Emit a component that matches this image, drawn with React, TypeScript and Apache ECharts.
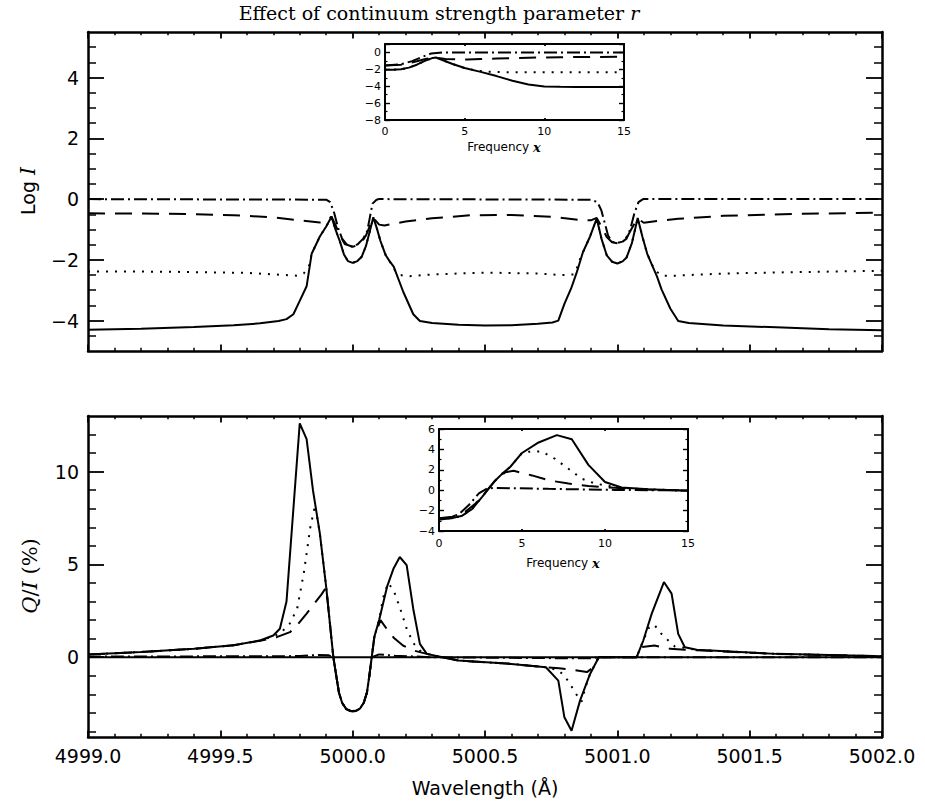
import React, { useEffect, useRef } from "react";
import * as echarts from "echarts";

// ---------- axis ranges & ticks ----------
const WL_MIN = 4999.0;
const WL_MAX = 5002.0;
const WL_STEP = 0.5;
const LOGI_MIN = -5;
const LOGI_MAX = 5.5;
const LOGI_MAJOR = [-4, -2, 0, 2, 4];
const LOGI_MINOR = [-4.5, -3.5, -3, -2.5, -1.5, -1, -0.5, 0.5, 1, 1.5, 2.5, 3, 3.5, 4.5, 5];
const QI_MIN = -4.3;
const QI_MAX = 13;
const QI_MAJOR = [0, 5, 10];
const QI_MINOR = [-4, -3, -2, -1, 1, 2, 3, 4, 6, 7, 8, 9, 11, 12];
const FREQ_MIN = 0;
const FREQ_MAX = 15;
const FREQ_STEP = 5;
const INSET_TOP_MIN = -8;
const INSET_TOP_MAX = 1;
const INSET_BOT_MIN = -4;
const INSET_BOT_MAX = 6;
const INSET_Y_STEP = 2;

// ---------- top panel: Log I vs wavelength ----------
const topSolid = [
  [4999.0, -4.3], [4999.2, -4.27], [4999.4, -4.21], [4999.55, -4.15], [4999.65, -4.09], [4999.72, -4.01],
  [4999.75, -3.95], [4999.776, -3.79], [4999.8, -3.35], [4999.826, -2.87], [4999.845, -1.8], [4999.876, -1.23],
  [4999.9, -0.9], [4999.92, -0.58], [4999.935, -1.0], [4999.952, -1.4], [4999.967, -1.82], [4999.982, -2.04],
  [5000.0, -2.1], [5000.018, -2.04], [5000.034, -1.9], [5000.05, -1.55], [5000.065, -1.05], [5000.078, -0.6],
  [5000.092, -0.98], [5000.105, -1.38], [5000.125, -1.85], [5000.14, -2.05], [5000.155, -2.22], [5000.191, -3.05],
  [5000.229, -3.79], [5000.254, -4.01], [5000.3, -4.08], [5000.4, -4.14], [5000.5, -4.16], [5000.6, -4.15],
  [5000.7, -4.1], [5000.755, -4.06], [5000.777, -4.0], [5000.8, -3.45], [5000.825, -2.95], [5000.846, -2.43],
  [5000.87, -1.75], [5000.897, -1.23], [5000.922, -0.64], [5000.94, -1.3], [5000.96, -1.85], [5000.98, -2.06],
  [5001.0, -2.12], [5001.02, -2.05], [5001.035, -1.92], [5001.055, -1.45], [5001.077, -0.62], [5001.095, -1.25],
  [5001.113, -1.8], [5001.13, -2.15], [5001.15, -2.55], [5001.167, -2.97], [5001.2, -3.6], [5001.23, -4.01],
  [5001.27, -4.08], [5001.4, -4.16], [5001.6, -4.22], [5001.8, -4.28], [5002.0, -4.32],
];
const topDotted = [
  [4999.0, -2.38], [4999.3, -2.39], [4999.6, -2.43], [4999.79, -2.52], [4999.815, -2.45], [4999.835, -2.2],
  [4999.845, -1.8], [4999.876, -1.23], [4999.9, -0.9], [4999.92, -0.58], [4999.935, -1.0], [4999.952, -1.4],
  [4999.967, -1.82], [4999.982, -2.04], [5000.0, -2.1], [5000.018, -2.04], [5000.034, -1.9], [5000.05, -1.55],
  [5000.065, -1.05], [5000.078, -0.6], [5000.092, -0.98], [5000.105, -1.38], [5000.125, -1.85], [5000.14, -2.05],
  [5000.16, -2.35], [5000.18, -2.5], [5000.21, -2.54], [5000.3, -2.48], [5000.5, -2.42], [5000.7, -2.45],
  [5000.79, -2.5], [5000.835, -2.48], [5000.846, -2.3], [5000.855, -2.05], [5000.87, -1.75], [5000.897, -1.23],
  [5000.922, -0.64], [5000.94, -1.3], [5000.96, -1.85], [5000.98, -2.06], [5001.0, -2.12], [5001.02, -2.05],
  [5001.035, -1.92], [5001.055, -1.45], [5001.077, -0.62], [5001.095, -1.25], [5001.113, -1.8], [5001.13, -2.15],
  [5001.15, -2.4], [5001.17, -2.52], [5001.22, -2.52], [5001.4, -2.45], [5001.7, -2.4], [5002.0, -2.36],
];
const topDashed = [
  [4999.0, -0.47], [4999.3, -0.48], [4999.55, -0.53], [4999.7, -0.6], [4999.8, -0.7], [4999.876, -0.77],
  [4999.9, -0.7], [4999.92, -0.58], [4999.935, -0.85], [4999.952, -1.2], [4999.97, -1.48], [5000.0, -1.57],
  [5000.03, -1.48], [5000.05, -1.2], [5000.065, -0.88], [5000.078, -0.62], [5000.1, -0.84], [5000.12, -0.87],
  [5000.2, -0.74], [5000.3, -0.63], [5000.45, -0.53], [5000.6, -0.52], [5000.75, -0.58], [5000.86, -0.69],
  [5000.9, -0.7], [5000.922, -0.62], [5000.94, -0.9], [5000.96, -1.25], [5000.98, -1.42], [5001.0, -1.45],
  [5001.02, -1.4], [5001.04, -1.2], [5001.06, -0.88], [5001.077, -0.64], [5001.1, -0.78], [5001.15, -0.72],
  [5001.23, -0.65], [5001.4, -0.55], [5001.7, -0.48], [5002.0, -0.45],
];
const topDashDot = [
  [4999.0, 0.0], [4999.9, -0.02], [4999.915, -0.1], [4999.93, -0.45], [4999.945, -0.95], [4999.96, -1.3],
  [4999.98, -1.52], [5000.0, -1.57], [5000.02, -1.48], [5000.04, -1.3], [5000.055, -1.05], [5000.065, -0.6],
  [5000.075, -0.15], [5000.09, -0.02], [5000.1, 0.0], [5000.9, -0.02], [5000.925, -0.1], [5000.94, -0.38],
  [5000.965, -1.2], [5000.98, -1.4], [5000.997, -1.45], [5001.02, -1.4], [5001.035, -1.3], [5001.05, -0.95],
  [5001.065, -0.45], [5001.08, -0.1], [5001.097, 0.0], [5002.0, 0.0],
];

// ---------- top inset: Log I vs frequency x ----------
const insetTopSolid = [
  [0, -2.05], [0.5, -2.05], [1, -2.0], [1.5, -1.8], [2, -1.45], [2.5, -1.0], [3, -0.65], [3.2, -0.6],
  [3.6, -0.9], [4.2, -1.34], [5, -1.85], [6, -2.3], [7, -2.8], [8, -3.35], [9, -3.8], [10, -4.02],
  [11, -4.07], [12, -4.08], [15, -4.08],
];
const insetTopDotted = [
  [0, -2.05], [0.5, -2.05], [1, -2.0], [1.5, -1.8], [2, -1.45], [2.5, -1.0], [3, -0.65], [3.2, -0.6],
  [3.6, -0.9], [4.2, -1.34], [5, -1.85], [5.5, -2.05], [6, -2.2], [6.5, -2.28], [7, -2.32], [8, -2.35],
  [15, -2.35],
];
const insetTopDashed = [
  [0, -1.55], [1, -1.45], [2, -1.05], [2.6, -0.75], [3.2, -0.62], [3.8, -0.78], [4.5, -0.82], [5.2, -0.84],
  [6, -0.78], [7, -0.72], [9, -0.62], [11, -0.56], [13, -0.53], [15, -0.52],
];
const insetTopDashDot = [
  [0, -1.55], [1, -1.4], [1.7, -1.03], [2.3, -0.55], [2.9, -0.13], [3.6, 0.0], [15, 0.0],
];

// ---------- bottom panel: Q/I (%) vs wavelength ----------
const botSolid = [
  [4999.0, 0.15], [4999.2, 0.28], [4999.4, 0.45], [4999.55, 0.65], [4999.65, 0.9], [4999.7, 1.17],
  [4999.725, 1.53], [4999.75, 3.0], [4999.8, 12.6], [4999.826, 11.75], [4999.85, 9.0], [4999.876, 6.67],
  [4999.9, 3.78], [4999.927, 0.0], [4999.938, -1.0], [4999.948, -1.9], [4999.96, -2.45], [4999.975, -2.78],
  [4999.99, -2.88], [5000.0, -2.9], [5000.012, -2.88], [5000.027, -2.78], [5000.042, -2.45], [5000.054, -1.9],
  [5000.063, -1.0], [5000.072, 0.0], [5000.082, 1.1], [5000.1, 2.0], [5000.13, 3.8], [5000.155, 4.8],
  [5000.178, 5.4], [5000.204, 4.96], [5000.229, 2.6], [5000.254, 0.72], [5000.28, 0.18], [5000.4, -0.18],
  [5000.6, -0.36], [5000.73, -0.54], [5000.777, -1.26], [5000.8, -3.24], [5000.827, -3.96], [5000.859, -2.34],
  [5000.897, -0.9], [5000.93, 0.0], [5001.073, 0.0], [5001.098, 0.9], [5001.13, 2.35], [5001.176, 4.05],
  [5001.205, 3.43], [5001.23, 1.26], [5001.255, 0.54], [5001.3, 0.4], [5001.6, 0.18], [5002.0, 0.05],
];
const botDotted = [
  [4999.0, 0.15], [4999.2, 0.28], [4999.4, 0.45], [4999.55, 0.65], [4999.65, 0.9], [4999.7, 1.12],
  [4999.725, 1.28], [4999.76, 1.75], [4999.79, 2.6], [4999.815, 4.5], [4999.84, 7.0], [4999.858, 8.2],
  [4999.876, 6.67], [4999.9, 3.78], [4999.927, 0.0], [4999.938, -1.0], [4999.948, -1.9], [4999.96, -2.45],
  [4999.975, -2.78], [4999.99, -2.88], [5000.0, -2.9], [5000.012, -2.88], [5000.027, -2.78], [5000.042, -2.45],
  [5000.054, -1.9], [5000.063, -1.0], [5000.072, 0.0], [5000.082, 1.1], [5000.1, 2.0], [5000.115, 3.2],
  [5000.134, 4.0], [5000.155, 3.6], [5000.18, 2.6], [5000.205, 1.5], [5000.23, 0.75], [5000.255, 0.35],
  [5000.28, 0.18], [5000.4, -0.18], [5000.6, -0.36], [5000.73, -0.54], [5000.777, -0.7], [5000.8, -1.0],
  [5000.82, -1.4], [5000.84, -1.9], [5000.865, -2.4], [5000.88, -1.6], [5000.897, -0.9], [5000.93, 0.0],
  [5001.073, 0.0], [5001.098, 0.9], [5001.12, 1.6], [5001.14, 1.75], [5001.16, 1.35], [5001.186, 0.99],
  [5001.217, 0.58], [5001.255, 0.5], [5001.3, 0.4], [5001.6, 0.18], [5002.0, 0.05],
];
const botDashed = [
  [4999.0, 0.15], [4999.2, 0.28], [4999.4, 0.45], [4999.55, 0.65], [4999.65, 0.88], [4999.713, 1.08],
  [4999.763, 1.35], [4999.789, 1.71], [4999.826, 2.35], [4999.883, 3.4], [4999.9, 3.78], [4999.927, 0.0],
  [4999.938, -1.0], [4999.948, -1.9], [4999.96, -2.45], [4999.975, -2.78], [4999.99, -2.88], [5000.0, -2.9],
  [5000.012, -2.88], [5000.027, -2.78], [5000.042, -2.45], [5000.054, -1.9], [5000.063, -1.0], [5000.072, 0.0],
  [5000.082, 1.1], [5000.105, 2.0], [5000.13, 1.5], [5000.155, 1.05], [5000.19, 0.63], [5000.23, 0.36],
  [5000.28, 0.18], [5000.4, -0.18], [5000.6, -0.36], [5000.73, -0.54], [5000.78, -0.6], [5000.83, -0.68],
  [5000.885, -0.8], [5000.905, -0.6], [5000.93, 0.0], [5001.073, 0.0], [5001.09, 0.55], [5001.14, 0.63],
  [5001.2, 0.45], [5001.255, 0.4], [5001.3, 0.38], [5001.6, 0.18], [5002.0, 0.05],
];
const botDashDot = [
  [4999.0, 0.03], [4999.8, 0.06], [4999.87, 0.12], [4999.91, 0.1], [4999.927, 0.0], [4999.938, -1.0],
  [4999.948, -1.9], [4999.96, -2.45], [4999.975, -2.8], [4999.99, -2.9], [5000.0, -2.92], [5000.012, -2.9],
  [5000.027, -2.8], [5000.042, -2.45], [5000.054, -1.9], [5000.063, -1.0], [5000.072, 0.0], [5000.1, 0.15],
  [5000.16, 0.08], [5000.3, 0.0], [5000.75, -0.05], [5000.9, -0.05], [5000.93, 0.0], [5002.0, 0.0],
];
const botZero = [[WL_MIN, 0], [WL_MAX, 0]];

// ---------- bottom inset: Q/I vs frequency x ----------
const insetBotSolid = [
  [0, -2.8], [0.8, -2.74], [1.4, -2.5], [2, -1.84], [2.6, -0.65], [3.3, 0.8], [3.8, 1.6], [4.3, 2.3],
  [5, 3.65], [6, 4.68], [7.1, 5.4], [8, 5.0], [9, 2.48], [10, 0.8], [11, 0.26], [12.6, 0.1], [15, -0.06],
];
const insetBotDotted = [
  [0, -2.8], [0.8, -2.74], [1.4, -2.5], [2, -1.84], [2.6, -0.65], [3.3, 0.8], [3.8, 1.6], [4.3, 2.3],
  [5, 3.65], [5.4, 3.77], [6.2, 3.8], [7, 3.06], [7.8, 2.1], [8.6, 1.13], [9.4, 0.65], [10.6, 0.32],
  [11.6, 0.16], [12.6, 0.1], [15, -0.06],
];
const insetBotDashed = [
  [0, -2.75], [0.8, -2.6], [1.6, -2.1], [2.2, -1.3], [2.6, -0.6], [3.4, 0.97], [4, 1.77], [4.5, 1.9],
  [5.6, 1.45], [6.6, 0.97], [7.8, 0.65], [9, 0.42], [10.6, 0.23], [12.6, 0.06], [15, -0.03],
];
const insetBotDashDot = [
  [0, -2.9], [0.6, -2.75], [1.2, -2.35], [1.8, -1.45], [2.4, -0.32], [2.9, 0.16], [3.3, 0.23], [6.6, 0.13],
  [10.6, 0.03], [15, -0.03],
];

// ---------- styles ----------
const SANS = "DejaVu Sans";
const SERIF = "DejaVu Serif";
const BLACK = "#000";
const DASH = {
  solid: "solid" as any,
  dotted: [2, 7] as any,
  dashed: [17, 10] as any,
  dashdot: [13, 4, 2, 4] as any,
};
const minus = (v: number) => String(v).replace("-", "\u2212");

function xPair(gridIndex: number, min: number, max: number, interval: number, tickLen: number,
  minorSplit: number, minorLen: number, showLabel: boolean, fmt: (v: number) => string,
  fontSize: number, margin: number, frameW: number) {
  const base = (position: string, labels: boolean) => ({
    type: "value", gridIndex, position, min, max, interval,
    axisLine: { show: true, onZero: false, lineStyle: { color: BLACK, width: frameW } },
    axisTick: { show: true, inside: true, length: tickLen, lineStyle: { color: BLACK, width: 1.8 } },
    minorTick: { show: minorSplit > 0, splitNumber: minorSplit || 5, length: minorLen, lineStyle: { color: BLACK, width: 1.5 } },
    axisLabel: { show: labels, formatter: fmt, color: BLACK, fontFamily: SANS, fontSize, margin },
    splitLine: { show: false }, minorSplitLine: { show: false },
  });
  return [base("bottom", showLabel), base("top", false)];
}

function yCustom(gridIndex: number, min: number, max: number, major: number[], minor: number[],
  majorLen: number, minorLen: number, fontSize: number, margin: number) {
  const out: any[] = [];
  for (const pos of ["left", "right"]) {
    out.push({
      type: "value", gridIndex, position: pos, min, max,
      axisLine: { show: true, onZero: false, lineStyle: { color: BLACK, width: 2.5 } },
      axisTick: { show: true, inside: true, length: majorLen, customValues: major, lineStyle: { color: BLACK, width: 1.8 } },
      axisLabel: { show: pos === "left", customValues: major, formatter: minus, color: BLACK, fontFamily: SANS, fontSize, margin },
      splitLine: { show: false },
    });
    out.push({
      type: "value", gridIndex, position: pos, min, max,
      axisLine: { show: false, onZero: false },
      axisTick: { show: true, inside: true, length: minorLen, customValues: minor, lineStyle: { color: BLACK, width: 1.5 } },
      axisLabel: { show: false },
      splitLine: { show: false },
    });
  }
  return out;
}

function yInset(gridIndex: number, min: number, max: number, interval: number) {
  return ["left", "right"].map((pos) => ({
    type: "value", gridIndex, position: pos, min, max, interval,
    axisLine: { show: true, onZero: false, lineStyle: { color: BLACK, width: 2 } },
    axisTick: { show: true, inside: true, length: 5, lineStyle: { color: BLACK, width: 1.4 } },
    minorTick: { show: true, splitNumber: 2, length: 2.5, lineStyle: { color: BLACK, width: 1.2 } },
    axisLabel: { show: pos === "left", formatter: minus, color: BLACK, fontFamily: SANS, fontSize: 11, margin: 4 },
    splitLine: { show: false }, minorSplitLine: { show: false },
  }));
}

function line(data: number[][], style: any, xAxisIndex: number, yAxisIndex: number, width = 2) {
  return {
    type: "line", data, xAxisIndex, yAxisIndex, showSymbol: false, symbol: "none", clip: true,
    lineStyle: { color: BLACK, width, type: style }, emphasis: { disabled: true }, silent: true,
  };
}

export default function App() {
  const ref = useRef<HTMLDivElement>(null);
  useEffect(() => {
    if (!ref.current) return;
    const chart = echarts.init(ref.current, undefined, { renderer: "svg" });
    const wlFmt = (v: number) => v.toFixed(1);
    const xAxis = [
      ...xPair(0, WL_MIN, WL_MAX, WL_STEP, 6.4, 5, 3.2, false, wlFmt, 19, 9, 2.5),
      ...xPair(1, FREQ_MIN, FREQ_MAX, FREQ_STEP, 2, 0, 0, true, (v) => String(v), 11, 6, 2),
      ...xPair(2, WL_MIN, WL_MAX, WL_STEP, 6.4, 5, 3.2, true, wlFmt, 19, 9, 2.5),
      ...xPair(3, FREQ_MIN, FREQ_MAX, FREQ_STEP, 2, 0, 0, true, (v) => String(v), 11, 7, 2),
    ];
    const yAxis = [
      ...yCustom(0, LOGI_MIN, LOGI_MAX, LOGI_MAJOR, LOGI_MINOR, 16, 8, 19, 9), // 0-3
      ...yInset(1, INSET_TOP_MIN, INSET_TOP_MAX, INSET_Y_STEP), // 4-5
      ...yCustom(2, QI_MIN, QI_MAX, QI_MAJOR, QI_MINOR, 16, 8, 19, 9), // 6-9
      ...yInset(3, INSET_BOT_MIN, INSET_BOT_MAX, INSET_Y_STEP), // 10-11
    ];
    const series = [
      line(topSolid, DASH.solid, 0, 0),
      line(topDotted, DASH.dotted, 0, 0),
      line(topDashed, DASH.dashed, 0, 0),
      line(topDashDot, DASH.dashdot, 0, 0),
      line(insetTopSolid, DASH.solid, 2, 4),
      line(insetTopDotted, DASH.dotted, 2, 4),
      line(insetTopDashed, DASH.dashed, 2, 4),
      line(insetTopDashDot, DASH.dashdot, 2, 4),
      line(botZero, DASH.solid, 4, 6),
      line(botSolid, DASH.solid, 4, 6),
      line(botDotted, DASH.dotted, 4, 6),
      line(botDashed, DASH.dashed, 4, 6),
      line(botDashDot, DASH.dashdot, 4, 6),
      line(insetBotSolid, DASH.solid, 6, 10),
      line(insetBotDotted, DASH.dotted, 6, 10),
      line(insetBotDashed, DASH.dashed, 6, 10),
      line(insetBotDashDot, DASH.dashdot, 6, 10),
    ];
    const graphic = [
      {
        type: "text", x: 439, y: 13,
        style: {
          text: "{n|Effect of continuum strength parameter }{i|r}", align: "center", verticalAlign: "middle",
          rich: {
            n: { fontFamily: SERIF, fontSize: 19, fill: BLACK },
            i: { fontFamily: SERIF, fontSize: 19, fontStyle: "italic", fill: BLACK },
          },
        },
      },
      {
        type: "text", x: 28, y: 191, rotation: Math.PI / 2,
        style: {
          text: "{a|Log }{b|I}", align: "center", verticalAlign: "middle",
          rich: {
            a: { fontFamily: SANS, fontSize: 19, fill: BLACK },
            b: { fontFamily: SERIF, fontSize: 20, fontStyle: "italic", fill: BLACK },
          },
        },
      },
      {
        type: "text", x: 30, y: 576, rotation: Math.PI / 2,
        style: {
          text: "{i|Q}{n|/}{i|I}{n| (%)}", align: "center", verticalAlign: "middle",
          rich: {
            i: { fontFamily: SERIF, fontSize: 21, fontStyle: "italic", fill: BLACK },
            n: { fontFamily: SERIF, fontSize: 21, fill: BLACK },
          },
        },
      },
      {
        type: "text", x: 485, y: 788,
        style: { text: "Wavelength (Å)", align: "center", verticalAlign: "middle", fontFamily: SANS, fontSize: 19, fill: BLACK },
      },
      {
        type: "text", x: 504, y: 147,
        style: {
          text: "{a|Frequency }{b|x}", align: "center", verticalAlign: "middle",
          rich: {
            a: { fontFamily: SANS, fontSize: 12, fill: BLACK },
            b: { fontFamily: SERIF, fontSize: 13, fontStyle: "italic", fontWeight: "bold", fill: BLACK },
          },
        },
      },
      {
        type: "text", x: 563, y: 563,
        style: {
          text: "{a|Frequency }{b|x}", align: "center", verticalAlign: "middle",
          rich: {
            a: { fontFamily: SANS, fontSize: 12, fill: BLACK },
            b: { fontFamily: SERIF, fontSize: 13, fontStyle: "italic", fontWeight: "bold", fill: BLACK },
          },
        },
      },
    ];
    chart.setOption({
      animation: false,
      backgroundColor: "#fff",
      grid: [
        { left: 88, top: 32, width: 794, height: 319 },
        { left: 385, top: 44, width: 239, height: 76 },
        { left: 88, top: 416, width: 794, height: 321 },
        { left: 439, top: 429, width: 249, height: 102 },
      ],
      xAxis, yAxis, series, graphic,
    } as any);
    return () => chart.dispose();
  }, []);
  return (
    <div
      ref={ref}
      style={{ position: "absolute", left: 0, top: 0, width: 925, height: 809, background: "#fff" }}
    />
  );
}
